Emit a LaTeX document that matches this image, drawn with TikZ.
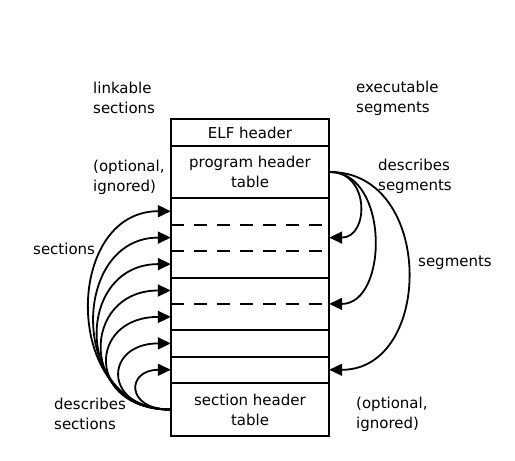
\documentclass[tikz,border=0pt]{standalone}
\usepackage{fontspec}
\setmainfont{DejaVu Sans}
\usetikzlibrary{arrows.meta}
\tikzset{
  row/.style={draw, line width=2pt, minimum width=158pt, inner sep=0pt,
    align=center, font=\fontsize{15}{20}\selectfont},
  part/.style={minimum width=158pt, minimum height=26.43pt, inner sep=0pt},
  txt/.style={anchor=west, align=left, inner sep=0pt,
    font=\fontsize{15}{20}\selectfont},
  sep/.style={line width=2pt},
  dsep/.style={line width=2pt, dash pattern=on 13pt off 10pt},
  ref/.style={line width=1.8pt, -{Triangle[length=13pt,width=12pt]}}
}
\begin{document}
\begin{tikzpicture}[x=1pt,y=-1pt]
      \useasboundingbox (0,0) rectangle (515,461);
      % the file image
      \node[row, minimum height=27pt] (elf) at (250,132.5) {ELF header};
      \node[row, minimum height=52pt] (phdr) at (250,172) {program header\\table};
      \node[part] (a1) at (250,211.2) {};
      \node[part] (a2) at (250,237.6) {};
      \node[part] (a3) at (250,264.1) {};
      \node[part] (b1) at (250,290.5) {};
      \node[part] (b2) at (250,316.9) {};
      \node[part] (c1) at (250,343.4) {};
      \node[part] (d1) at (250,369.8) {};
      \node[row, minimum height=53pt] (shdr) at (250,409.5) {section header\\table};
      \draw[sep] (a1.north west) rectangle (d1.south east);
      \draw[sep] (a3.south west) -- (a3.south east);
      \draw[sep] (b2.south west) -- (b2.south east);
      \draw[sep] (c1.south west) -- (c1.south east);
      \draw[dsep] (a1.south west) -- (a1.south east);
      \draw[dsep] (a2.south west) -- (a2.south east);
      \draw[dsep] (b1.south west) -- (b1.south east);
      % side notes
      \node[txt] (link) at (93,98) {linkable\\sections};
      \node[txt] (exec) at (356,98) {executable\\segments};
      \node[txt] (optl) at (93,177) {(optional,\\ignored)};
      \node[txt] (dseg) at (378,176) {describes\\segments};
      \node[txt] (secs) at (33,249) {sections};
      \node[txt] (segs) at (418,263) {segments};
      \node[txt] (dsec) at (54,414) {describes\\sections};
      \node[txt] (optr) at (356,414) {(optional,\\ignored)};
      \begin{scope}[ref]
        \draw (shdr.west) to[out=180,in=180,looseness=1.39] (a1.west);
        \draw (shdr.west) to[out=180,in=180,looseness=1.50] (a2.west);
        \draw (shdr.west) to[out=180,in=180,looseness=1.69] (a3.west);
        \draw (shdr.west) to[out=180,in=180,looseness=1.95] (b1.west);
        \draw (shdr.west) to[out=180,in=180,looseness=2.31] (b2.west);
        \draw (shdr.west) to[out=180,in=180,looseness=2.61] (c1.west);
        \draw (shdr.west) to[out=180,in=180,looseness=2.87] (d1.west);
        \draw (phdr.east) to[out=0,in=0,looseness=1.56] (a2.east);
        \draw (phdr.east) to[out=0,in=0,looseness=1.15] (b1.south east);
        \draw (phdr.east) to[out=0,in=0,looseness=1.35] (d1.east);
      \end{scope}
    \end{tikzpicture}
\end{document}
